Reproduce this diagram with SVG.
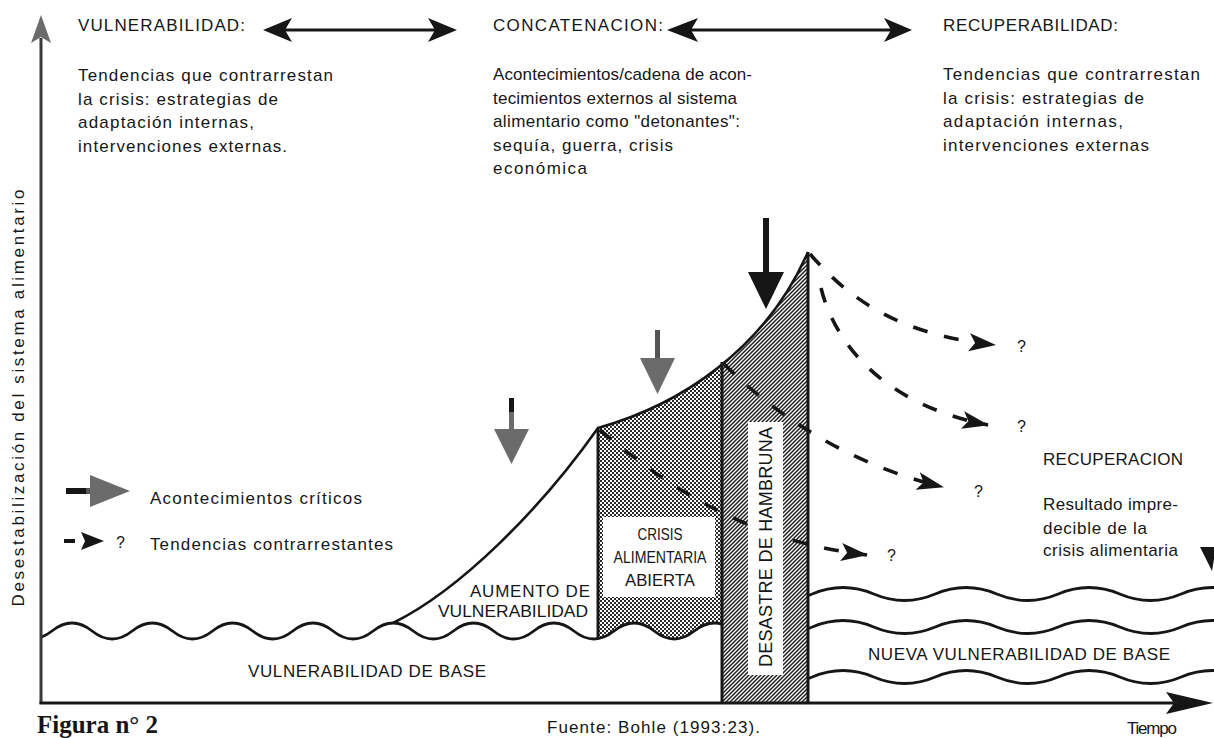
<svg xmlns="http://www.w3.org/2000/svg" width="1214" height="738" viewBox="0 0 1214 738">
<style>
text{font-family:"Liberation Sans",Arial,Helvetica,sans-serif;fill:#161616}
.h{font-size:17px}
.b{font-size:17px}
.u{font-size:17px}
.q{font-size:16px}
.ln{fill:none;stroke:#161616;stroke-width:3}
.wv{fill:none;stroke:#161616;stroke-width:2.8}
.cv{fill:none;stroke:#161616;stroke-width:2.6}
.ds{fill:none;stroke:#161616;stroke-width:3.6;stroke-dasharray:15 17}
.ev{fill:#6b6b6b}
.blk{fill:#161616}
.wb{fill:#ffffff}
</style>
<defs>
<pattern id="pStip" width="4" height="4" patternUnits="userSpaceOnUse">
<rect width="4" height="4" fill="#ffffff"/>
<rect width="2" height="2" fill="#2a2a2a"/>
<rect x="2" y="2" width="2" height="2" fill="#2a2a2a"/>
</pattern>
<pattern id="pHatch" width="4" height="4" patternUnits="userSpaceOnUse">
<rect width="4" height="4" fill="#ffffff"/>
<path d="M-1,1 L1,-1 M0,4 L4,0 M3,5 L5,3" stroke="#1e1e1e" stroke-width="1.5"/>
</pattern>
<marker id="ah" markerUnits="userSpaceOnUse" markerWidth="27" markerHeight="20" viewBox="0 0 27 20" refX="26" refY="10" orient="auto">
<path d="M0,1 L27,10 L0,19 L6,10 Z" fill="#161616"/>
</marker>
<clipPath id="cL"><rect x="41" y="0" width="681" height="738"/></clipPath>
<clipPath id="cC"><rect x="598" y="0" width="124" height="738"/></clipPath>
<clipPath id="cD"><rect x="722" y="0" width="86" height="738"/></clipPath>
<clipPath id="cR"><rect x="808" y="0" width="406" height="738"/></clipPath>
<path id="waveL" d="M 11.775 631 Q 31.85 647 51.925 631 T 92.075 631 T 132.225 631 T 172.375 631 T 212.525 631 T 252.675 631 T 292.825 631 T 332.975 631 T 373.125 631 T 413.275 631 T 453.425 631 T 493.575 631 T 533.725 631 T 573.875 631 T 614.025 631 T 654.175 631 T 694.325 631 T 734.475 631"/>
<path id="waveR" d="M 750.75 0 Q 781.5 13 812.25 0 T 873.75 0 T 935.25 0 T 996.75 0 T 1058.25 0 T 1119.75 0 T 1181.25 0 T 1242.75 0"/>
</defs>

<rect width="1214" height="738" fill="#ffffff"/>

<g id="region-crisis">
<path clip-path="url(#cC)" d="M 598 428 C 680 405 765 350 808 252 L 808 703 L 598 703 Z" fill="url(#pStip)"/>
<path clip-path="url(#cC)" d="M 573.875 631 Q 593.95 647 614.025 631 T 654.175 631 T 694.325 631 T 734.475 631 L 734.475 703 L 573.875 703 Z" fill="#ffffff"/>
</g>
<g id="region-desastre">
<path clip-path="url(#cD)" d="M 598 428 C 680 405 765 350 808 252 L 808 703 L 598 703 Z" fill="url(#pHatch)"/>
</g>

<g id="base-left">
<use href="#waveL" class="wv" clip-path="url(#cL)"/>
</g>

<g id="base-right" clip-path="url(#cR)">
<use href="#waveR" class="wv" transform="translate(0,594)"/>
<use href="#waveR" class="wv" transform="translate(0,627)"/>
<use href="#waveR" class="wv" transform="translate(0,677)"/>
</g>

<g id="curve">
<path class="cv" d="M 393 623 C 460 590 540 510 598 428 C 680 405 765 350 808 252"/>
<line class="ln" x1="598" y1="428" x2="598" y2="639"/>
<line class="ln" x1="722" y1="362" x2="722" y2="703"/>
<line class="ln" x1="808" y1="252" x2="808" y2="703"/>
</g>

<g id="axes">
<line x1="41" y1="38" x2="41" y2="704" stroke="#3a3a3a" stroke-width="3"/>
<polygon points="41,15 31,43 41,37 51,43" fill="#6b6b6b"/>
<line x1="39.5" y1="703" x2="1180" y2="703" stroke="#161616" stroke-width="3"/>
<polygon points="1166,692 1213,703 1166,714 1174,703" class="blk"/>
<text class="b" transform="translate(24,398) rotate(-90)" text-anchor="middle" textLength="417">Desestabilización del sistema alimentario</text>
<text class="b" x="1127" y="734" textLength="50">Tiempo</text>
</g>

<g id="connectors">
<line class="ln" x1="285" y1="30" x2="436" y2="30"/>
<polygon class="blk" points="263,30 292,18 285,30 292,42"/>
<polygon class="blk" points="457,30 428,18 435,30 428,42"/>
<line class="ln" x1="690" y1="30" x2="892" y2="30"/>
<polygon class="blk" points="667,30 698,18 691,30 698,42"/>
<polygon class="blk" points="912,30 884,18 891,30 884,42"/>
<rect class="ev" x="509" y="398" width="5" height="34"/>
<rect class="blk" x="509" y="398" width="5" height="14"/>
<polygon class="ev" points="494,429 529,429 511.5,464"/>
<rect x="655" y="330" width="5" height="32" fill="#555555"/>
<polygon class="ev" points="640,358 675,358 657.5,394"/>
<rect class="blk" x="763" y="218" width="6" height="58"/>
<polygon class="blk" points="748,272 784,272 766,309"/>
<path class="ds" marker-end="url(#ah)" d="M 810 254 C 850 300 900 335 995 345"/>
<path class="ds" marker-end="url(#ah)" d="M 821 288 C 835 345 885 405 988 425"/>
<path class="ds" marker-end="url(#ah)" d="M 724 364 C 775 415 850 465 943 487"/>
<path class="ds" marker-end="url(#ah)" d="M 600 430 C 660 480 740 540 867 555"/>
</g>

<g id="edge-arrow">
<polygon class="blk" points="1200,547 1216,547 1212,571"/>
</g>

<g id="node-crisis">
<rect class="wb" x="603" y="517" width="112" height="80"/>
<text class="u" x="660" y="540" text-anchor="middle" textLength="45" lengthAdjust="spacingAndGlyphs">CRISIS</text>
<text class="u" x="660" y="563" text-anchor="middle" textLength="93" lengthAdjust="spacingAndGlyphs">ALIMENTARIA</text>
<text class="u" x="660" y="586" text-anchor="middle" textLength="70" lengthAdjust="spacingAndGlyphs">ABIERTA</text>
</g>
<g id="node-desastre">
<rect class="wb" x="748" y="422" width="35" height="253"/>
<text class="u" style="font-size:18px" transform="translate(772,547) rotate(-90)" text-anchor="middle" textLength="240">DESASTRE DE HAMBRUNA</text>
</g>
<g id="node-aumento">
<text class="u" x="590" y="597" text-anchor="end" textLength="120">AUMENTO DE</text>
<text class="u" x="588" y="617" text-anchor="end" textLength="150" lengthAdjust="spacingAndGlyphs">VULNERABILIDAD</text>
</g>
<g id="node-base">
<text class="u" x="248" y="677" textLength="238">VULNERABILIDAD DE BASE</text>
</g>
<g id="node-nueva-base">
<text class="u" x="868" y="660" textLength="302">NUEVA VULNERABILIDAD DE BASE</text>
</g>
<g id="node-questions">
<text class="q" x="1017" y="352">?</text>
<text class="q" x="1017" y="432">?</text>
<text class="q" x="974" y="497">?</text>
<text class="q" x="887" y="561">?</text>
</g>

<g id="node-vulnerabilidad">
<text class="h" x="78" y="31" textLength="167">VULNERABILIDAD:</text>
<text class="b" x="78" y="81" textLength="255">Tendencias que contrarrestan</text>
<text class="b" x="78" y="105" textLength="200">la crisis: estrategias de</text>
<text class="b" x="78" y="128" textLength="176">adaptación internas,</text>
<text class="b" x="78" y="152" textLength="209">intervenciones externas.</text>
</g>
<g id="node-concatenacion">
<text class="h" x="493" y="31" textLength="170">CONCATENACION:</text>
<text class="b" x="493" y="80" textLength="259">Acontecimientos/cadena de acon-</text>
<text class="b" x="493" y="104" textLength="244">tecimientos externos al sistema</text>
<text class="b" x="493" y="127" textLength="247">alimentario como "detonantes":</text>
<text class="b" x="493" y="151" textLength="180">sequía, guerra, crisis</text>
<text class="b" x="493" y="174" textLength="94">económica</text>
</g>
<g id="node-recuperabilidad">
<text class="h" x="943" y="31" textLength="175">RECUPERABILIDAD:</text>
<text class="b" x="943" y="80" textLength="257">Tendencias que contrarrestan</text>
<text class="b" x="943" y="104" textLength="201">la crisis: estrategias de</text>
<text class="b" x="943" y="127" textLength="180">adaptación internas,</text>
<text class="b" x="943" y="151" textLength="206">intervenciones externas</text>
</g>
<g id="node-recuperacion">
<text class="b" x="1043" y="465" textLength="140">RECUPERACION</text>
<text class="b" x="1043" y="510" textLength="135">Resultado impre-</text>
<text class="b" x="1043" y="534" textLength="104">decible de la</text>
<text class="b" x="1043" y="556" textLength="135">crisis alimentaria</text>
</g>

<g id="legend">
<rect x="66" y="488" width="22" height="6" class="blk"/>
<rect x="86" y="488" width="8" height="6" fill="#555555"/>
<polygon class="ev" points="90,475 130,491 90,507"/>
<text class="b" x="150" y="504" textLength="212">Acontecimientos críticos</text>
<rect x="64" y="539" width="11" height="4" class="blk"/>
<polygon class="blk" points="81,532 104,541 81,550 85,541"/>
<text class="q" x="116" y="548">?</text>
<text class="b" x="150" y="550" textLength="243">Tendencias contrarrestantes</text>
</g>

<g id="captions">
<text class="b" x="547" y="733" textLength="213">Fuente: Bohle (1993:23).</text>
<text x="37" y="733" style="font-family:'Liberation Serif','Times New Roman',serif;font-weight:bold;font-size:25px">Figura n° 2</text>
</g>
</svg>
